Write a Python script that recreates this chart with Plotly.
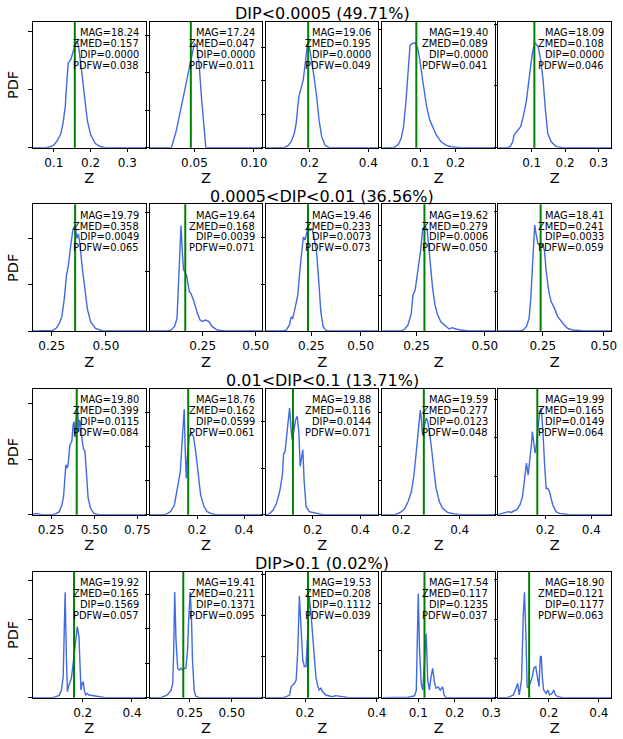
import plotly.graph_objects as go

W, H = 623, 739
FONT = "DejaVu Sans"

group_titles = ["DIP<0.0005 (49.71%)", "0.0005<DIP<0.01 (36.56%)",
                "0.01<DIP<0.1 (13.71%)", "DIP>0.1 (0.02%)"]

# per-object summary values (row-major, 5 objects per DIP group)
mag = [18.24, 17.24, 19.06, 19.40, 18.09,
       19.79, 19.64, 19.46, 19.62, 18.41,
       19.80, 18.76, 19.88, 19.59, 19.99,
       19.92, 19.41, 19.53, 17.54, 18.90]
zmed = [0.157, 0.047, 0.195, 0.089, 0.108,
        0.358, 0.168, 0.233, 0.279, 0.241,
        0.399, 0.162, 0.116, 0.277, 0.165,
        0.165, 0.211, 0.208, 0.117, 0.121]
dip = [0.0, 0.0, 0.0, 0.0, 0.0,
       0.0049, 0.0039, 0.0073, 0.0006, 0.0033,
       0.0115, 0.0599, 0.0144, 0.0123, 0.0149,
       0.1569, 0.1371, 0.1112, 0.1235, 0.1177]
pdfw = [0.038, 0.011, 0.049, 0.041, 0.046,
        0.065, 0.071, 0.073, 0.050, 0.059,
        0.084, 0.061, 0.071, 0.048, 0.064,
        0.057, 0.095, 0.039, 0.037, 0.063]

# redshift PDFs
z_11 = [0.043, 0.079, 0.092, 0.101, 0.110, 0.119, 0.125, 0.131, 0.135, 0.139, 0.146, 0.152,
        0.158, 0.164, 0.168, 0.173, 0.182, 0.191, 0.200, 0.213, 0.226, 0.240, 0.350]
pdf_11 = [0, 0, 0.2, 0.5, 1.3, 2.4, 4.2, 7.0, 11.0, 14.5, 15.1, 16.3,
          17.7, 18.3, 17.0, 14.5, 9.4, 4.7, 2.2, 0.7, 0.2, 0, 0]
z_12 = [0.0125, 0.0307, 0.0349, 0.0390, 0.0431, 0.0467, 0.0500, 0.0522, 0.0541, 0.0561,
        0.0583, 0.0596, 0.107]
pdf_12 = [0, 0, 9.4, 21.9, 34.3, 45.9, 55.6, 53.9, 43.2, 25.4, 7.6, 0, 0]
z_13 = [0.0508, 0.1136, 0.126, 0.137, 0.148, 0.154, 0.163, 0.171, 0.178, 0.185, 0.193,
        0.201, 0.208, 0.215, 0.224, 0.232, 0.241, 0.252, 0.266, 0.434]
pdf_13 = [0, 0, 0.3, 0.9, 2.2, 3.65, 7.6, 8.9, 10.1, 12.6, 15.6,
          14.6, 12.9, 10.6, 7.6, 4.1, 1.65, 0.4, 0, 0]
z_14 = [-0.007, 0.025, 0.0296, 0.0389, 0.0463, 0.0528, 0.0593, 0.0648, 0.0713, 0.0778,
        0.0852, 0.0926, 0.099, 0.108, 0.118, 0.127, 0.136, 0.145, 0.159, 0.173, 0.187,
        0.215, 0.312]
pdf_14 = [0, 0, 0.17, 0.62, 1.58, 3.5, 7.5, 12.6, 17.4, 17.7,
          17.8, 16.9, 14.9, 11.0, 7.0, 4.7, 3.3, 2.2, 1.0, 0.45, 0.17, 0, 0]
z_15 = [0.0, 0.0257, 0.0355, 0.0433, 0.0473, 0.0551, 0.0669, 0.0747, 0.0845, 0.0943,
        0.102, 0.109, 0.119, 0.126, 0.134, 0.141, 0.148, 0.158, 0.173, 0.192, 0.338]
pdf_15 = [0, 0, 0.16, 0.97, 2.05, 2.6, 3.4, 5.0, 7.7, 12.1,
          15.3, 17.0, 16.4, 14.5, 11.0, 6.1, 2.3, 1.0, 0.16, 0, 0]

z_21 = [0.163, 0.240, 0.255, 0.270, 0.285, 0.297, 0.308, 0.318, 0.327, 0.338, 0.349, 0.358,
        0.366, 0.373, 0.379, 0.391, 0.404, 0.414, 0.429, 0.452, 0.482, 0.512, 0.684]
pdf_21 = [0, 0, 0.07, 0.29, 0.83, 1.55, 3.5, 6.0, 7.1, 9.3, 11.1, 11.4,
          10.0, 10.5, 9.6, 6.8, 4.2, 2.45, 1.0, 0.29, 0.03, 0, 0]
z_22 = [0.0006, 0.0857, 0.101, 0.117, 0.129, 0.137, 0.143, 0.148, 0.154, 0.160, 0.168,
        0.1755, 0.187, 0.194, 0.207, 0.217, 0.225, 0.238, 0.248, 0.264, 0.280, 0.295,
        0.319, 0.349, 0.531]
pdf_22 = [0, 0, 0.17, 0.73, 2.1, 7.8, 13.4, 17.8, 13.4, 10.3, 9.9,
          9.2, 6.6, 6.4, 5.2, 3.8, 3.0, 1.85, 1.6, 1.85, 1.6, 0.73, 0.17, 0, 0]
z_23 = [0.0195, 0.106, 0.123, 0.139, 0.148, 0.155, 0.162, 0.168, 0.181, 0.193, 0.203,
        0.2095, 0.218, 0.2265, 0.2345, 0.243, 0.253, 0.2645, 0.2765, 0.2865, 0.298,
        0.3095, 0.323, 0.3395, 0.5895]
pdf_23 = [0, 0, 0.1, 0.64, 1.5, 1.3, 1.9, 2.4, 3.8, 6.7, 9.3,
          10.0, 9.7, 10.6, 11.1, 10.7, 10.9, 9.9, 8.4, 5.6, 2.05, 0.46, 0.1, 0, 0]
z_24 = [0.125, 0.195, 0.207, 0.219, 0.231, 0.237, 0.245, 0.255, 0.2645, 0.273, 0.2815,
        0.289, 0.2935, 0.3007, 0.309, 0.3175, 0.327, 0.339, 0.357, 0.369, 0.381, 0.3935,
        0.4115, 0.4355, 0.4835, 0.538]
pdf_24 = [0, 0, 0.28, 0.85, 2.5, 5.1, 5.8, 8.4, 11.2, 14.5, 14.8,
          14.3, 12.4, 8.9, 6.05, 3.7, 2.3, 1.3, 0.61, 0.28, 0.47, 0.28, 0.14, 0.05, 0, 0]
z_25 = [0.067, 0.156, 0.1693, 0.1827, 0.1937, 0.2005, 0.207, 0.2127, 0.2167, 0.223, 0.230,
        0.237, 0.2435, 0.250, 0.257, 0.2637, 0.2745, 0.284, 0.2977, 0.311, 0.3245, 0.338,
        0.3515, 0.372, 0.4125, 0.453, 0.531]
pdf_25 = [0, 0, 0.13, 0.55, 1.6, 4.1, 7.9, 11.7, 13.35, 12.1, 11.0,
          10.8, 10.6, 11.0, 10.0, 7.5, 4.95, 3.7, 2.85, 1.8, 1.2, 0.76, 0.34, 0.13, 0.04, 0, 0]

z_31 = [0.145, 0.155, 0.174, 0.193, 0.260, 0.279, 0.298, 0.313, 0.3225, 0.330, 0.336,
        0.342, 0.349, 0.359, 0.3705, 0.378, 0.3835, 0.389, 0.397, 0.4047, 0.4104, 0.416,
        0.4235, 0.431, 0.439, 0.4465, 0.454, 0.465, 0.479, 0.498, 0.526, 0.799]
pdf_31 = [0, 0.09, 0.09, 0, 0, 0.09, 0.27, 0.88, 1.6, 3.3, 4.5,
          4.2, 4.5, 6.3, 6.6, 8.1, 8.4, 7.0, 9.0, 9.55, 7.5, 8.55,
          7.9, 6.6, 5.9, 5.75, 3.6, 1.5, 0.58, 0.12, 0, 0]
z_32 = [-0.002, 0.061, 0.0748, 0.0887, 0.103, 0.117, 0.1283, 0.135, 0.141, 0.145, 0.149,
        0.1536, 0.158, 0.1662, 0.176, 0.1843, 0.194, 0.204, 0.215, 0.2294, 0.243, 0.2643,
        0.2854, 0.478]
pdf_32 = [0, 0, 0.2, 0.54, 1.43, 3.9, 6.3, 10.25, 13.2, 15.5, 9.8,
          5.35, 8.3, 11.5, 12.0, 11.5, 9.3, 5.8, 2.9, 1.2, 0.44, 0.1, 0, 0]
z_33 = [0.0018, 0.0118, 0.0185, 0.0327, 0.0465, 0.0602, 0.0715, 0.0768, 0.0827, 0.088,
        0.0964, 0.1018, 0.109, 0.113, 0.120, 0.127, 0.134, 0.141, 0.1464, 0.152, 0.1577,
        0.163, 0.167, 0.1714, 0.185, 0.213, 0.241, 0.476]
pdf_33 = [0, 0, 0.15, 0.5, 1.2, 2.5, 4.3, 6.6, 6.8, 8.05,
          9.7, 11.5, 8.9, 8.05, 9.1, 10.2, 10.6, 8.9, 5.2, 6.4, 7.0,
          3.7, 2.1, 0.86, 0.32, 0.15, 0, 0]
z_34 = [0.1346, 0.1777, 0.1889, 0.2004, 0.2116, 0.2228, 0.2343, 0.2431, 0.2512, 0.259,
        0.2648, 0.2682, 0.2726, 0.2783, 0.2851, 0.2906, 0.2963, 0.3021, 0.3109, 0.319,
        0.3302, 0.3414, 0.3584, 0.381, 0.4036, 0.522]
pdf_34 = [0, 0, 0.2, 0.44, 0.93, 1.9, 3.4, 5.8, 9.3, 12.7,
          15.4, 14.2, 11.7, 12.9, 14.2, 13.7, 12.2, 10.25, 6.8, 3.9,
          1.9, 0.93, 0.35, 0.1, 0, 0]
z_35 = [-0.005, 0.0178, 0.0393, 0.0534, 0.0637, 0.0749, 0.0895, 0.1006, 0.1109, 0.1178,
        0.1251, 0.1324, 0.1392, 0.1435, 0.1495, 0.1551, 0.1607, 0.168, 0.1753, 0.1822,
        0.1895, 0.1968, 0.2036, 0.2109, 0.2182, 0.2251, 0.2324, 0.2465, 0.2611, 0.2826,
        0.3041, 0.487]
pdf_35 = [0, 0.17, 0.39, 0.3, 0.52, 0.61, 1.26, 2.35, 4.7, 6.7,
          5.15, 6.9, 9.05, 10.8, 9.5, 8.0, 9.05, 11.2, 13.4, 13.8,
          10.8, 6.45, 3.4, 3.4, 3.0, 2.1, 1.26, 0.39, 0.17, 0.09, 0, 0]

z_41 = [-0.002, 0.0782, 0.0918, 0.105, 0.114, 0.121, 0.125, 0.129, 0.1342, 0.1382, 0.1422,
        0.1478, 0.1542, 0.1582, 0.165, 0.1718, 0.1782, 0.185, 0.189, 0.193, 0.1982, 0.2022,
        0.2078, 0.213, 0.2182, 0.225, 0.245, 0.265, 0.2918, 0.456]
pdf_41 = [0, 0, 0.26, 0.6, 2.0, 5.4, 16.5, 27.0, 9.7, 1.55, 2.8,
          4.1, 5.0, 7.1, 10.5, 14.8, 18.2, 15.6, 7.9, 2.0, 3.7, 4.1,
          1.55, 0.7, 1.1, 0.7, 0.5, 0.26, 0, 0]
z_42 = [0.011, 0.0792, 0.0992, 0.1186, 0.138, 0.148, 0.154, 0.1598, 0.1675, 0.1775, 0.1875,
        0.1969, 0.2069, 0.2169, 0.2263, 0.2363, 0.2439, 0.2522, 0.2598, 0.2657, 0.2757,
        0.2851, 0.3051, 0.682]
pdf_42 = [0, 0, 0.24, 0.48, 1.1, 2.1, 6.9, 15.3, 8.4, 4.25, 4.0,
          4.25, 4.0, 4.25, 4.25, 6.9, 11.7, 15.3, 11.7, 5.5, 1.1, 0.24, 0, 0]
z_43 = [0.0904, 0.1383, 0.1474, 0.1565, 0.1612, 0.1659, 0.1703, 0.175, 0.1796, 0.184,
        0.1887, 0.1934, 0.1978, 0.2025, 0.2072, 0.2116, 0.2163, 0.221, 0.2254, 0.23, 0.2347,
        0.2391, 0.2438, 0.2485, 0.2576, 0.2667, 0.2761, 0.2851, 0.3036, 0.3218, 0.4044]
pdf_43 = [0, 0, 0.24, 0.65, 2.7, 3.1, 3.5, 4.3, 11.6, 24.8,
          15.7, 9.2, 7.6, 7.6, 15.7, 24.6, 20.6, 14.9, 10.0, 5.1, 3.1,
          1.9, 2.3, 1.5, 0.65, 0.5, 0.24, 0.5, 0.24, 0, 0]
z_44 = [0.0016, 0.063, 0.0719, 0.081, 0.090, 0.0946, 0.0981, 0.100, 0.1035, 0.1081,
        0.1124, 0.117, 0.1216, 0.1259, 0.1305, 0.1351, 0.1394, 0.144, 0.1486, 0.1548,
        0.1602, 0.1665, 0.171, 0.1756, 0.3108]
pdf_44 = [0, 0, 0.1, 0.2, 0.42, 1.6, 19.3, 22.1, 10.1, 3.05,
          1.6, 7.6, 13.6, 3.75, 1.6, 4.45, 6.2, 3.4, 2.0, 2.3,
          1.6, 2.3, 0.57, 0, 0]
z_45 = [-0.0027, 0.0313, 0.0447, 0.0578, 0.0684, 0.0748, 0.0815, 0.0906, 0.0973, 0.1024,
        0.108, 0.1131, 0.1182, 0.1261, 0.134, 0.1396, 0.1475, 0.1538, 0.1605, 0.1657,
        0.1696, 0.1736, 0.1791, 0.1894, 0.1961, 0.2028, 0.2131, 0.2198, 0.2265, 0.2356,
        0.2553, 0.45]
pdf_45 = [0, 0, 0.25, 0.7, 2.4, 3.65, 0.7, 4.5, 20.6, 26.8,
          16.4, 2.8, 2.4, 3.65, 5.35, 7.5, 7.9, 5.35, 2.8, 10.4,
          10.6, 5.35, 1.96, 1.1, 1.96, 0.7, 1.1, 1.96, 0.7, 0.25, 0, 0]

z_curves = [z_11, z_12, z_13, z_14, z_15, z_21, z_22, z_23, z_24, z_25,
            z_31, z_32, z_33, z_34, z_35, z_41, z_42, z_43, z_44, z_45]
pdf_curves = [pdf_11, pdf_12, pdf_13, pdf_14, pdf_15, pdf_21, pdf_22, pdf_23, pdf_24, pdf_25,
              pdf_31, pdf_32, pdf_33, pdf_34, pdf_35, pdf_41, pdf_42, pdf_43, pdf_44, pdf_45]

# axis limits and ticks
x_ranges = [[0.043, 0.35], [0.0125, 0.107], [0.0508, 0.434], [-0.007, 0.312], [0.0, 0.338],
            [0.163, 0.684], [0.0006, 0.531], [0.0195, 0.5895], [0.125, 0.538], [0.067, 0.531],
            [0.145, 0.799], [-0.002, 0.478], [0.0018, 0.476], [0.1346, 0.522], [-0.005, 0.487],
            [-0.002, 0.456], [0.011, 0.682], [0.0904, 0.4044], [0.0016, 0.3108], [-0.0027, 0.45]]
x_ticklabels = [["0.1", "0.2", "0.3"], ["0.05", "0.10"], ["0.2", "0.4"], ["0.1", "0.2"], ["0.1", "0.2", "0.3"],
                ["0.25", "0.50"], ["0.25", "0.50"], ["0.25", "0.50"], ["0.25", "0.50"], ["0.25", "0.50"],
                ["0.25", "0.50", "0.75"], ["0.2", "0.4"], ["0.2", "0.4"], ["0.2", "0.4"], ["0.2", "0.4"],
                ["0.2", "0.4"], ["0.25", "0.50"], ["0.2", "0.4"], ["0.1", "0.2", "0.3"], ["0.2", "0.4"]]
pdf_top = [21.6, 67.2, 18.86, 21.4, 20.4,
           13.68, 21.37, 13.48, 17.95, 15.96,
           11.37, 18.53, 13.58, 18.53, 16.36,
           32.3, 18.26, 30.7, 26.7, 32.06]
pdf_step = [10, 20, 5, 10, 10,
            5, 10, 5, 5, 5,
            5, 5, 5, 5, 5,
            10, 5, 10, 10, 10]

# panel geometry in pixels
col_px = [(33.3, 147.7), (151.7, 265.7), (269.3, 383.3), (387.3, 501.7), (504.7, 619.3)]
row_px = [(21.7, 147.7), (204.3, 331.0), (388.7, 514.7), (571.7, 697.7)]

fig = go.Figure()
annotations = []
shapes = []

for k in range(20):
    r, c = divmod(k, 5)
    n = k + 1
    xa = "x" if n == 1 else f"x{n}"
    ya = "y" if n == 1 else f"y{n}"
    x0, x1 = col_px[c]
    y0, y1 = row_px[r]

    fig.add_trace(go.Scatter(x=z_curves[k], y=pdf_curves[k], mode="lines",
                             line=dict(color="#4169e1", width=1.4),
                             xaxis=xa, yaxis=ya, showlegend=False, hoverinfo="skip"))

    shapes.append(dict(type="line", xref=xa, yref=f"{ya} domain",
                       x0=zmed[k], x1=zmed[k], y0=0, y1=1,
                       line=dict(color="green", width=2)))

    axis_common = dict(showline=True, mirror=True, linecolor="black", linewidth=1,
                       ticks="outside", ticklen=3.5, tickwidth=1, tickcolor="black",
                       showgrid=False, zeroline=False)
    fig.layout[xa.replace("x", "xaxis")] = dict(
        **axis_common,
        domain=[x0 / W, x1 / W], anchor=ya, range=x_ranges[k],
        tickvals=[float(t) for t in x_ticklabels[k]], ticktext=x_ticklabels[k],
        tickfont=dict(family=FONT, size=12, color="black"),
        title=dict(text="Z", font=dict(family=FONT, size=14.5, color="black"), standoff=4),
    )
    fig.layout[ya.replace("y", "yaxis")] = dict(
        **axis_common,
        domain=[1 - y1 / H, 1 - y0 / H], anchor=xa, range=[0, pdf_top[k]],
        tick0=0, dtick=pdf_step[k], showticklabels=False,
    )

    stats = [f"MAG={mag[k]:.2f}", f"ZMED={zmed[k]:.3f}",
             f"DIP={dip[k]:.4f}", f"PDFW={pdfw[k]:.3f}"]
    for i, s in enumerate(stats):
        annotations.append(dict(text=s, xref="paper", yref="paper",
                                x=(x1 - 5.0) / W, y=1 - (y0 + 10.8 + i * 10.9) / H,
                                xanchor="right", yanchor="middle", showarrow=False,
                                font=dict(family=FONT, size=9.9, color="black")))

for r, title in enumerate(group_titles):
    annotations.append(dict(text=title, xref="paper", yref="paper",
                            x=(col_px[0][0] + col_px[-1][1]) / 2 / W,
                            y=1 - (row_px[r][0] - 8.0) / H,
                            xanchor="center", yanchor="middle", showarrow=False,
                            font=dict(family=FONT, size=16, color="black")))
    annotations.append(dict(text="PDF", xref="paper", yref="paper",
                            x=12.5 / W, y=1 - (row_px[r][0] + row_px[r][1]) / 2 / H,
                            xanchor="center", yanchor="middle", textangle=-90,
                            showarrow=False,
                            font=dict(family=FONT, size=14.5, color="black")))

fig.update_layout(width=W, height=H, margin=dict(l=0, r=0, t=0, b=0),
                  paper_bgcolor="white", plot_bgcolor="white",
                  annotations=annotations, shapes=shapes, showlegend=False)

fig.write_html("out.html")
